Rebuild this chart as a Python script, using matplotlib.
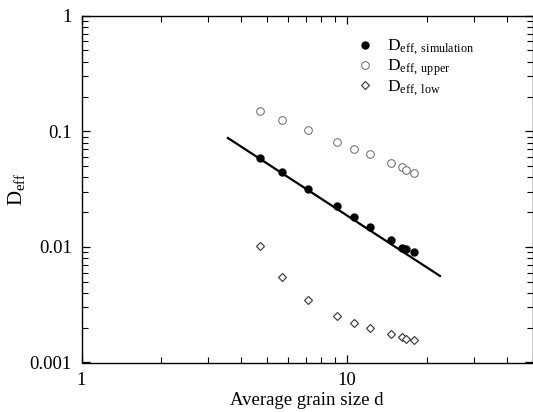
import matplotlib
matplotlib.use("Agg")
import matplotlib.pyplot as plt

plt.rcParams["font.family"] = ["Liberation Serif", "DejaVu Serif"]
plt.rcParams["mathtext.fontset"] = "custom"
plt.rcParams["mathtext.rm"] = "Liberation Serif"
plt.rcParams["mathtext.it"] = "Liberation Serif:italic"

# grain size d and effective diffusivities
d = [4.72, 5.67, 7.13, 9.19, 10.64, 12.21, 14.61, 16.07, 16.68, 17.88]
D_sim = [0.0590, 0.0446, 0.0319, 0.0224, 0.01825, 0.01472, 0.01147, 0.00984, 0.00953, 0.00898]
D_upper = [0.149, 0.126, 0.102, 0.0806, 0.0707, 0.0632, 0.0529, 0.0494, 0.0465, 0.0438]
D_low = [0.01024, 0.00546, 0.00349, 0.00254, 0.00221, 0.00200, 0.00177, 0.00165, 0.00161, 0.00155]
# power-law fit line (end points)
fit_d = [3.56, 22.4]
fit_D = [0.0875, 0.00561]

W, H = 533, 412
fig = plt.figure(figsize=(W / 100, H / 100), dpi=100)
ax = fig.add_axes([81.5 / W, 1 - 362.5 / H, (532.5 - 81.5) / W, (362.5 - 15.7) / H])

ax.plot(fit_d, fit_D, color="black", lw=1.6, zorder=2)
ax.plot(d, D_sim, "o", ms=5, mfc="black", mec="black", label=r"$\mathrm{D}_{\mathrm{eff,\ simulation}}$", zorder=3)
ax.plot(d, D_upper, "o", ms=5.5, mfc="white", mec="#666666", mew=0.7, label=r"$\mathrm{D}_{\mathrm{eff,\ upper}}$", zorder=3)
ax.plot(d, D_low, "D", ms=4, mfc="white", mec="#333333", mew=0.8, label=r"$\mathrm{D}_{\mathrm{eff,\ low}}$", zorder=3)

ax.set_xscale("log"); ax.set_yscale("log")
ax.set_xlim(1, 50); ax.set_ylim(0.001, 1)
ax.set_xticks([1, 10]); ax.set_xticklabels(["1", "10"])
ax.set_yticks([0.001, 0.01, 0.1, 1]); ax.set_yticklabels(["0.001", "0.01", "0.1", "1"])
ax.tick_params(which="both", direction="in", top=True, right=True, labelsize=13.5, pad=7)
ax.tick_params(which="major", length=6, width=0.9)
ax.tick_params(which="minor", length=4, width=0.8)
for s in ax.spines.values(): s.set_linewidth(1.0)
ax.set_xlabel("Average grain size d", fontsize=13.5, labelpad=2)
ax.set_ylabel(r"$\mathrm{D}_{\mathrm{eff}}$", fontsize=15, labelpad=2)

ax.legend(loc="upper left", bbox_to_anchor=(0.59, 0.962), frameon=False, fontsize=12.5,
          handlelength=1.0, handletextpad=0.75, labelspacing=0.0, borderpad=0)

fig.savefig("out.png", dpi=100)
